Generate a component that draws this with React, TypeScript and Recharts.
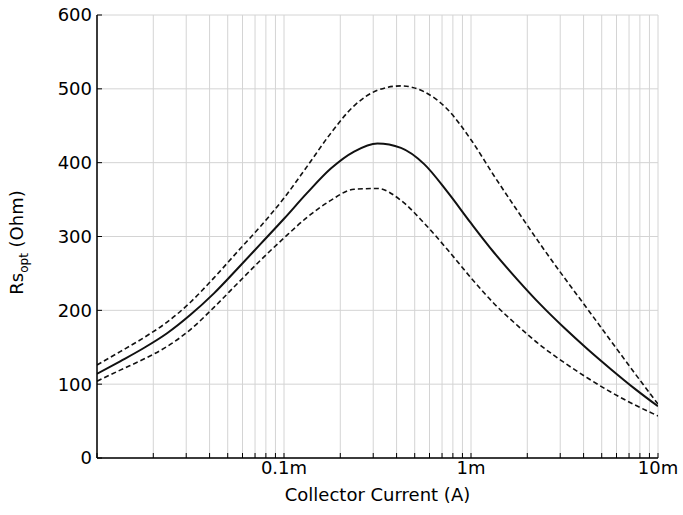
import { LineChart, Line, XAxis, YAxis, CartesianGrid } from "recharts";

// collector current (A), 1/8 decade steps from 10u to 10m
const currentA = [
  1.0e-5, 1.33e-5, 1.78e-5, 2.37e-5, 3.16e-5, 4.22e-5, 5.62e-5, 7.5e-5,
  1.0e-4, 1.33e-4, 1.78e-4, 2.37e-4, 3.16e-4, 4.22e-4, 5.62e-4, 7.5e-4,
  1.0e-3, 1.33e-3, 1.78e-3, 2.37e-3, 3.16e-3, 4.22e-3, 5.62e-3, 7.5e-3,
  1.0e-2,
];
const rsUpper = [
  126, 144, 163, 184, 211, 244, 279, 314, 352, 395, 440, 477, 498, 504, 496,
  472, 431, 382, 334, 288, 244, 201, 158, 115, 73,
];
const rsNominal = [
  114, 131, 149, 169, 194, 223, 256, 290, 324, 359, 392, 415, 426, 420, 398,
  360, 318, 278, 241, 207, 176, 147, 120, 94, 70,
];
const rsLower = [
  104, 119, 134, 151, 174, 204, 236, 268, 298, 326, 349, 364, 365, 349, 318,
  282, 244, 209, 179, 152, 129, 108, 89, 72, 57,
];

const gridCurrents = [
  1e-5, 2e-5, 3e-5, 4e-5, 5e-5, 6e-5, 7e-5, 8e-5, 9e-5,
  1e-4, 2e-4, 3e-4, 4e-4, 5e-4, 6e-4, 7e-4, 8e-4, 9e-4,
  1e-3, 2e-3, 3e-3, 4e-3, 5e-3, 6e-3, 7e-3, 8e-3, 9e-3,
  1e-2,
];
const decadeTicks = [1e-4, 1e-3, 1e-2];
const decadeLabels = ["0.1m", "1m", "10m"];
const yTicks = [0, 100, 200, 300, 400, 500, 600];

const rows = currentA.map((c, i) => ({
  current: c,
  upper: rsUpper[i],
  nominal: rsNominal[i],
  lower: rsLower[i],
}));

const fmtCurrent = (v: number) => {
  const i = decadeTicks.findIndex((t) => Math.abs(v - t) < t * 1e-6);
  return i >= 0 ? decadeLabels[i] : "";
};

const font = "'DejaVu Sans', sans-serif";

const YLabel = (props: any) => {
  const vb = props.viewBox || { x: 37, y: 15, width: 60, height: 443 };
  const cx = vb.x - 14;
  const cy = vb.y + vb.height / 2 + 6;
  return (
    <text
      x={cx}
      y={cy}
      transform={`rotate(-90, ${cx}, ${cy})`}
      textAnchor="middle"
      fontSize={18}
      fontFamily={font}
      fill="#000"
    >
      Rs
      <tspan fontSize={12} dy={5}>
        opt
      </tspan>
      <tspan dy={-5}> (Ohm)</tspan>
    </text>
  );
};

const App = () => {
  return (
    <div style={{ position: "absolute", left: 0, top: 0, background: "#fff" }}>
      <LineChart
        width={683}
        height={515}
        data={rows}
        margin={{ top: 15, right: 25, bottom: 10, left: 37 }}
        style={{ fontFamily: font }}
      >
        <CartesianGrid stroke="#d4d4d4" strokeWidth={1} />
        <XAxis
          dataKey="current"
          type="number"
          scale="log"
          domain={[1e-5, 1e-2]}
          allowDataOverflow
          ticks={gridCurrents}
          tickFormatter={fmtCurrent}
          interval={0}
          height={47}
          tickSize={-5}
          tickMargin={8}
          tick={{ fill: "#000", fontSize: 18 }}
          tickLine={{ stroke: "#000" }}
          axisLine={{ stroke: "#000", strokeWidth: 1.5 }}
          label={{
            value: "Collector Current (A)",
            position: "insideBottom",
            offset: 4,
            fill: "#000",
            fontSize: 18,
          }}
        />
        <XAxis
          xAxisId="top"
          orientation="top"
          type="number"
          scale="log"
          domain={[1e-5, 1e-2]}
          allowDataOverflow
          ticks={gridCurrents}
          interval={0}
          height={0}
          tick={false}
          tickSize={-5}
          tickLine={{ stroke: "#000" }}
          axisLine={{ stroke: "#000", strokeWidth: 1.5 }}
        />
        <YAxis
          type="number"
          domain={[0, 600]}
          ticks={yTicks}
          interval={0}
          width={60}
          tickSize={-5}
          tickMargin={10}
          tick={{ fill: "#000", fontSize: 18 }}
          tickLine={{ stroke: "#000" }}
          axisLine={{ stroke: "#000", strokeWidth: 1.5 }}
          label={<YLabel />}
        />
        <YAxis
          yAxisId="right"
          orientation="right"
          type="number"
          domain={[0, 600]}
          ticks={yTicks}
          interval={0}
          width={0}
          tick={false}
          tickSize={-5}
          tickLine={{ stroke: "#000" }}
          axisLine={{ stroke: "#000", strokeWidth: 1.5 }}
        />
        <Line
          type="monotone"
          dataKey="upper"
          stroke="#111"
          strokeWidth={1.6}
          strokeDasharray="5 3"
          dot={false}
          isAnimationActive={false}
        />
        <Line
          type="monotone"
          dataKey="nominal"
          stroke="#111"
          strokeWidth={2}
          dot={false}
          isAnimationActive={false}
        />
        <Line
          type="monotone"
          dataKey="lower"
          stroke="#111"
          strokeWidth={1.6}
          strokeDasharray="5 3"
          dot={false}
          isAnimationActive={false}
        />
      </LineChart>
    </div>
  );
};

export default App;
